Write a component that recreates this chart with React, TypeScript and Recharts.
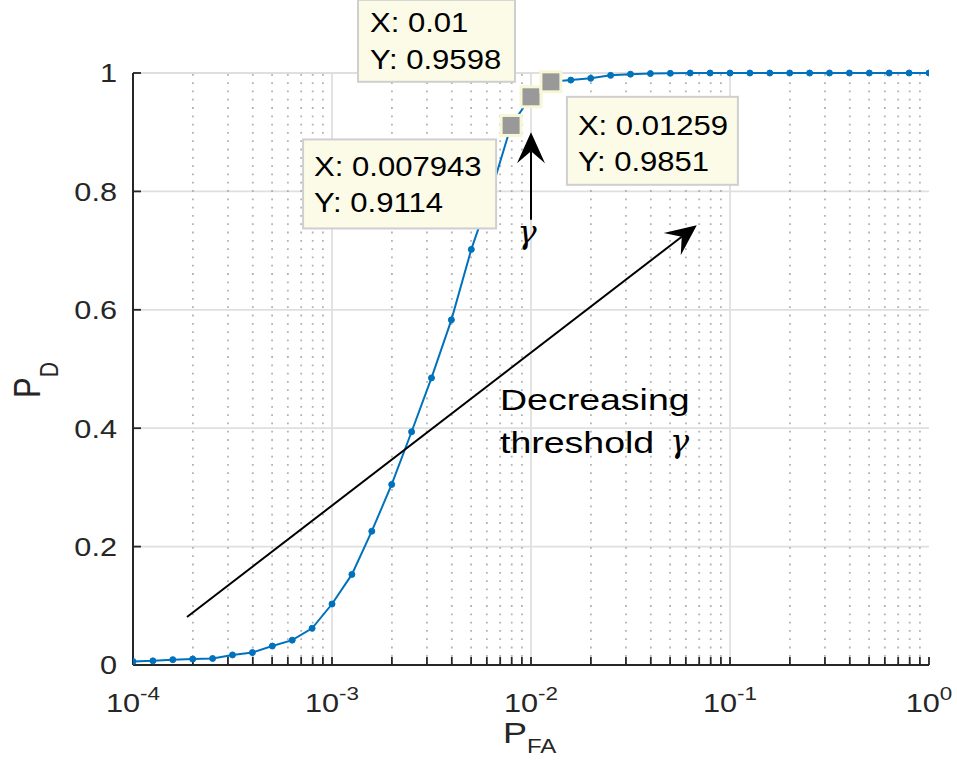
import React from "react";
import {
  LineChart,
  Line,
  XAxis,
  YAxis,
  CartesianGrid,
  ReferenceLine,
  ReferenceDot,
} from "recharts";

// false-alarm probability, 10 points per decade
const pFa = [
  0.0001, 0.0001259, 0.0001585, 0.0001995, 0.0002512, 0.0003162, 0.0003981, 0.0005012, 0.000631, 0.0007943,
  0.001, 0.001259, 0.001585, 0.001995, 0.002512, 0.003162, 0.003981, 0.005012, 0.00631, 0.007943,
  0.01, 0.01259, 0.01585, 0.01995, 0.02512, 0.03162, 0.03981, 0.05012, 0.0631, 0.07943,
  0.1, 0.1259, 0.1585, 0.1995, 0.2512, 0.3162, 0.3981, 0.5012, 0.631, 0.7943,
  1,
];

// detection probability
const pD = [
  0.006, 0.007, 0.009, 0.01, 0.011, 0.017, 0.021, 0.032, 0.042, 0.062,
  0.103, 0.153, 0.226, 0.305, 0.394, 0.485, 0.583, 0.702, 0.8, 0.9114,
  0.9598, 0.9851, 0.988, 0.991, 0.996, 0.998, 0.999, 0.9995, 1, 1,
  1, 1, 1, 1, 1, 1, 1, 1, 1, 1,
  1,
];

const majorX = [0.0001, 0.001, 0.01, 0.1, 1];
const minorFactors = [2, 3, 4, 5, 6, 7, 8, 9];
const yTicks = [0, 0.2, 0.4, 0.6, 0.8, 1];

// data tips
const tipX = [0.007943, 0.01, 0.01259];
const tipY = [0.9114, 0.9598, 0.9851];

// arrows (start -> end, data coords)
const arrows = [
  { from: { x: 0.0001868, y: 0.081 }, to: { x: 0.0681, y: 0.743 } },
  { from: { x: 0.01, y: 0.752 }, to: { x: 0.01, y: 0.9 } },
];

const data = pFa.map((x, i) => ({ x, y: pD[i] }));
const minorX = majorX.slice(0, -1).flatMap((m) => minorFactors.map((f) => +(m * f).toPrecision(3)));
const allX = [...majorX, ...minorX].sort((a, b) => a - b);

const FONT = "'Liberation Sans', Arial, Helvetica, sans-serif";
const GREEK = "'DejaVu Serif', 'Liberation Serif', serif";
const AX = "#262626";
const BLUE = "#0072BD";

// box offsets relative to the tip marker (layout only)
const tipBox = [
  { bx: -208, by: 14, w: 193, h: 89, tx: -197, l1: 51, l2: 87 },
  { bx: -173, by: -97, w: 157, h: 82, tx: -161, l1: -65, l2: -28 },
  { bx: 16, by: 15, w: 171, h: 88, tx: 27, l1: 53, l2: 89 },
];

const EmptyTick = () => <g />;

const XTick = ({ x, y, payload }: any) => {
  if (!majorX.includes(payload.value)) return <g />;
  const e = Math.round(Math.log10(payload.value));
  return (
    <text
      transform={`translate(${x},${y + 47}) scale(1.18,1)`}
      textAnchor="middle"
      fontSize={26}
      fill={AX}
      fontFamily={FONT}
    >
      10
      <tspan dy={-12} fontSize={19}>
        {e}
      </tspan>
    </text>
  );
};

const YTick = ({ x, y, payload }: any) => (
  <text
    transform={`translate(${x},${y}) scale(1.18,1)`}
    textAnchor="end"
    dy="0.36em"
    fontSize={26}
    fill={AX}
    fontFamily={FONT}
  >
    {payload.value}
  </text>
);

const ArrowShape = (p: any) => {
  const { x1, y1, x2, y2 } = p;
  const dx = x2 - x1;
  const dy = y2 - y1;
  const len = Math.hypot(dx, dy);
  const ux = dx / len;
  const uy = dy / len;
  const L = 31, W = 14, N = 19;
  const bx = x2 - ux * L;
  const by = y2 - uy * L;
  const nx = x2 - ux * N;
  const ny = y2 - uy * N;
  const pts = [
    [x2, y2],
    [bx - uy * W, by + ux * W],
    [nx, ny],
    [bx + uy * W, by - ux * W],
  ]
    .map((q) => q.join(","))
    .join(" ");
  return (
    <g>
      <line x1={x1} y1={y1} x2={nx} y2={ny} stroke="#000" strokeWidth={2} />
      <polygon points={pts} fill="#000" />
    </g>
  );
};

const makeTip = (i: number) => (p: any) => {
  const { cx, cy } = p;
  const b = tipBox[i];
  return (
    <g>
      <rect x={cx + b.bx} y={cy + b.by} width={b.w} height={b.h} fill="#fbfbe8" stroke="#cfcfcf" strokeWidth={2} />
      <text transform={`translate(${cx + b.tx},${cy + b.l1}) scale(1.15,1)`} fontSize={27} fill="#000" fontFamily={FONT}>
        X: {String(tipX[i])}
      </text>
      <text transform={`translate(${cx + b.tx},${cy + b.l2}) scale(1.15,1)`} fontSize={27} fill="#000" fontFamily={FONT}>
        Y: {String(tipY[i])}
      </text>
      <rect x={cx - 10} y={cy - 10} width={20} height={20} fill="#999999" stroke="#f7f7d6" strokeWidth={3} />
    </g>
  );
};

export default function App() {
  return (
    <div style={{ position: "absolute", left: 0, top: 0, width: 957, height: 760, background: "#fff", fontFamily: FONT }}>
      <LineChart width={957} height={760} data={data} margin={{ top: 73, right: 28, bottom: 35, left: 73 }}>
        <CartesianGrid vertical={false} stroke="#dfdfdf" strokeWidth={1.8} />
        {minorX.map((v) => (
          <ReferenceLine key={"m" + v} x={v} stroke="#b3b3b3" strokeWidth={1.8} strokeDasharray="1.8 6.5" />
        ))}
        {majorX.slice(1, -1).map((v) => (
          <ReferenceLine key={"M" + v} x={v} stroke="#dfdfdf" strokeWidth={1.8} />
        ))}
        <XAxis
          dataKey="x"
          type="number"
          scale="log"
          domain={[0.0001, 1]}
          allowDataOverflow
          ticks={allX}
          interval={0}
          height={60}
          tickSize={-8}
          tickMargin={8}
          tick={XTick}
          axisLine={{ stroke: AX, strokeWidth: 2 }}
          tickLine={{ stroke: AX, strokeWidth: 1.8 }}
        />
        <XAxis
          xAxisId="top"
          orientation="top"
          dataKey="x"
          type="number"
          scale="log"
          domain={[0.0001, 1]}
          allowDataOverflow
          ticks={allX}
          interval={0}
          height={0}
          tickSize={-8}
          tick={EmptyTick}
          axisLine={{ stroke: AX, strokeWidth: 2 }}
          tickLine={{ stroke: AX, strokeWidth: 1.8 }}
        />
        <YAxis
          type="number"
          domain={[0, 1]}
          ticks={yTicks}
          interval={0}
          width={60}
          tickSize={-8}
          tickMargin={24}
          tick={YTick}
          axisLine={{ stroke: AX, strokeWidth: 2 }}
          tickLine={{ stroke: AX, strokeWidth: 1.8 }}
        />
        <YAxis
          yAxisId="r"
          orientation="right"
          type="number"
          domain={[0, 1]}
          ticks={yTicks}
          interval={0}
          width={0}
          tickSize={-8}
          tick={EmptyTick}
          axisLine={{ stroke: AX, strokeWidth: 2 }}
          tickLine={{ stroke: AX, strokeWidth: 1.8 }}
        />
        <Line
          dataKey="y"
          type="linear"
          stroke={BLUE}
          strokeWidth={2}
          dot={{ r: 3, fill: BLUE, stroke: BLUE, strokeWidth: 1 }}
          activeDot={false}
          isAnimationActive={false}
        />
        {arrows.map((a, i) => (
          <ReferenceLine key={"a" + i} segment={[a.from, a.to]} shape={ArrowShape} ifOverflow="visible" zIndex={900} />
        ))}
        {tipX.map((x, i) => (
          <ReferenceDot key={"t" + i} x={x} y={tipY[i]} r={10} shape={makeTip(i)} ifOverflow="visible" zIndex={1500} />
        ))}
      </LineChart>
      <svg
        width={957}
        height={760}
        style={{ position: "absolute", left: 0, top: 0, pointerEvents: "none" }}
        fontFamily={FONT}
      >
        <text transform="translate(500,410) scale(1.25,1)" fontSize={30} fill="#000">
          Decreasing
        </text>
        <text transform="translate(500,453) scale(1.25,1)" fontSize={30} fill="#000">
          threshold
        </text>
        <text x={670} y={452} fontSize={32} fontStyle="italic" fontFamily={GREEK} fill="#000">
          γ
        </text>
        <text x={527} y={243} textAnchor="middle" fontSize={32} fontStyle="italic" fontFamily={GREEK} fill="#000">
          γ
        </text>
        <text transform="translate(503,743) scale(1.2,1)" fontSize={30} fill={AX}>
          P
          <tspan dy={10} fontSize={20}>
            FA
          </tspan>
        </text>
        <text transform="translate(40,398) scale(1.2,1) rotate(-90)" fontSize={31} fill={AX}>
          P
          <tspan dy={15} fontSize={21}>
            D
          </tspan>
        </text>
      </svg>
    </div>
  );
}
